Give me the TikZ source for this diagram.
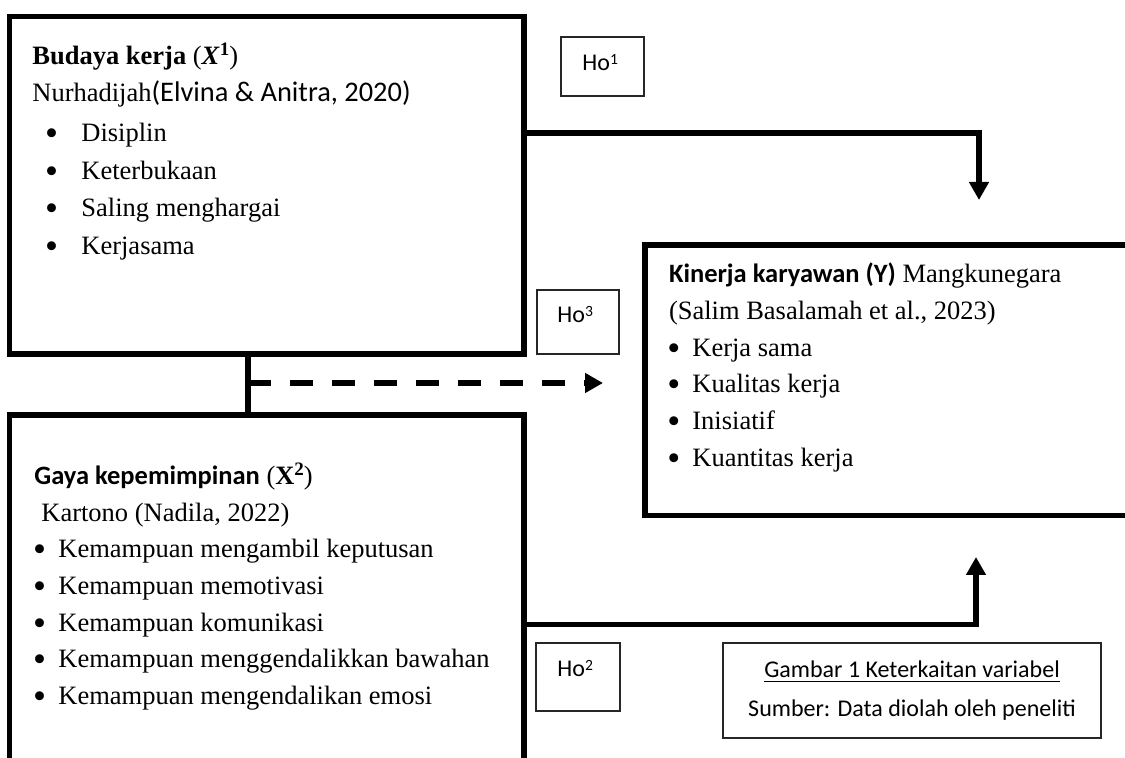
\documentclass[tikz,border=0pt]{standalone}
\usepackage{fontspec}
\usepackage{graphicx}
\setmainfont{Liberation Serif}
\newfontfamily\calib{Carlito}
\usetikzlibrary{arrows.meta,fit}
\newcommand\hsup[1]{\raisebox{3.4pt}{\fontsize{7.8}{8}\selectfont #1}}
\newcommand\xsup[1]{\raisebox{4.8pt}{\fontsize{9.5}{9.5}\selectfont\bfseries #1}}
\newcommand\blt[1]{\makebox[#1][l]{\raisebox{-0.13em}{\scalebox{1.4}{\textbullet}}}}
\begin{document}
\begin{tikzpicture}[x=0.5pt,y=-0.5pt,
  thickbox/.style={draw, line width=2.65pt, inner sep=0pt, outer sep=0pt},
  thinbox/.style={draw=black!85, line width=0.65pt, inner sep=0pt, outer sep=0pt},
  conn/.style={line width=2.65pt},
  tipped/.style={-{Triangle[length=9pt,width=9.5pt]}},
  txt/.style={anchor=base west, inner sep=0pt, font=\fontsize{13.25}{16}\selectfont},
  hotxt/.style={anchor=base west, inner sep=0pt, font=\calib\fontsize{12}{14}\selectfont},
  captxt/.style={anchor=base, inner sep=0pt, font=\calib\fontsize{12}{14}\selectfont},
]
\path[use as bounding box] (0,0) rectangle (1125,758);
\clip (0,0) rectangle (1125,758);

% boxes
\node[thickbox, fit={(9.5,16.5)(524,354)}] (x1) {};
\node[thickbox, fit={(9.5,415)(524,800)}] (x2) {};
\node[thickbox, fit={(645,245)(1140,515.5)}] (y) {};
\node[thinbox, fit={(561,37)(644,96)}] (h1) {};
\node[thinbox, fit={(537,290)(619,354)}] (h3) {};
\node[thinbox, fit={(536,643)(620,711)}] (h2) {};
\node[thinbox, fit={(723,643)(1101,738)}] (cap) {};

% X1 text
\node[txt] (x1a) at (32,65) {\textbf{Budaya kerja} (\textbf{\textit{X}}\xsup{1})};
\node[txt] (x1b) at (32,102) {Nurhadijah{\calib\fontsize{14.2}{16}\selectfont(Elvina \& Anitra, 2020)}};
\node[txt] (x1c) at (44.7,142) {\blt{18.15pt}Disiplin};
\node[txt] (x1d) at (44.7,180) {\blt{18.15pt}Keterbukaan};
\node[txt] (x1e) at (44.7,217) {\blt{18.15pt}Saling menghargai};
\node[txt] (x1f) at (44.7,255) {\blt{18.15pt}Kerjasama};

% X2 text
\node[txt] (x2a) at (34,485) {{\calib\bfseries Gaya kepemimpinan} (\textbf{X}\xsup{2})};
\node[txt] (x2b) at (41,522) {Kartono (Nadila, 2022)};
\node[txt] (x2c) at (32.7,558) {\blt{12.65pt}Kemampuan mengambil keputusan};
\node[txt] (x2d) at (32.7,595) {\blt{12.65pt}Kemampuan memotivasi};
\node[txt] (x2e) at (32.7,632) {\blt{12.65pt}Kemampuan komunikasi};
\node[txt] (x2f) at (32.7,668) {\blt{12.65pt}Kemampuan menggendalikkan bawahan};
\node[txt] (x2g) at (32.7,705) {\blt{12.65pt}Kemampuan mengendalikan emosi};

% Y text
\node[txt] (ya) at (668.6,283) {{\calib\bfseries Kinerja karyawan (Y)} Mangkunegara};
\node[txt] (yb) at (668.6,320) {(Salim Basalamah et al., 2023)};
\node[txt] (yc) at (667,357) {\blt{12.5pt}Kerja sama};
\node[txt] (yd) at (667,393) {\blt{12.5pt}Kualitas kerja};
\node[txt] (ye) at (667,430) {\blt{12.5pt}Inisiatif};
\node[txt] (yf) at (667,467) {\blt{12.5pt}Kuantitas kerja};

% Ho labels
\node[hotxt] (h1t) at (582,71) {Ho\hsup{1}};
\node[hotxt] (h3t) at (557,323) {Ho\hsup{3}};
\node[hotxt] (h2t) at (557,677) {Ho\hsup{2}};

% caption
\node[captxt] (cap1) at (912,678) {\underline{Gambar 1 Keterkaitan variabel}};
\node[captxt] (cap2) at (912,717) {Sumber: Data diolah oleh peneliti};

% connectors
\coordinate (c1) at (979,133);
\coordinate (a1) at (979,200);
\draw[conn,tipped] (x1.east |- c1) -- (c1) -- (a1);

\coordinate (v) at (248,383);
\draw[conn] (x1.south -| v) -- (x2.north -| v);
\coordinate (a3) at (603,383);
\draw[conn,tipped,dash pattern=on 11.65pt off 9.35pt] (v) -- (a3);

\coordinate (c2) at (976,624.5);
\coordinate (a2) at (976,557);
\draw[conn,tipped] (x2.east |- c2) -- (c2) -- (a2);
\end{tikzpicture}
\end{document}
